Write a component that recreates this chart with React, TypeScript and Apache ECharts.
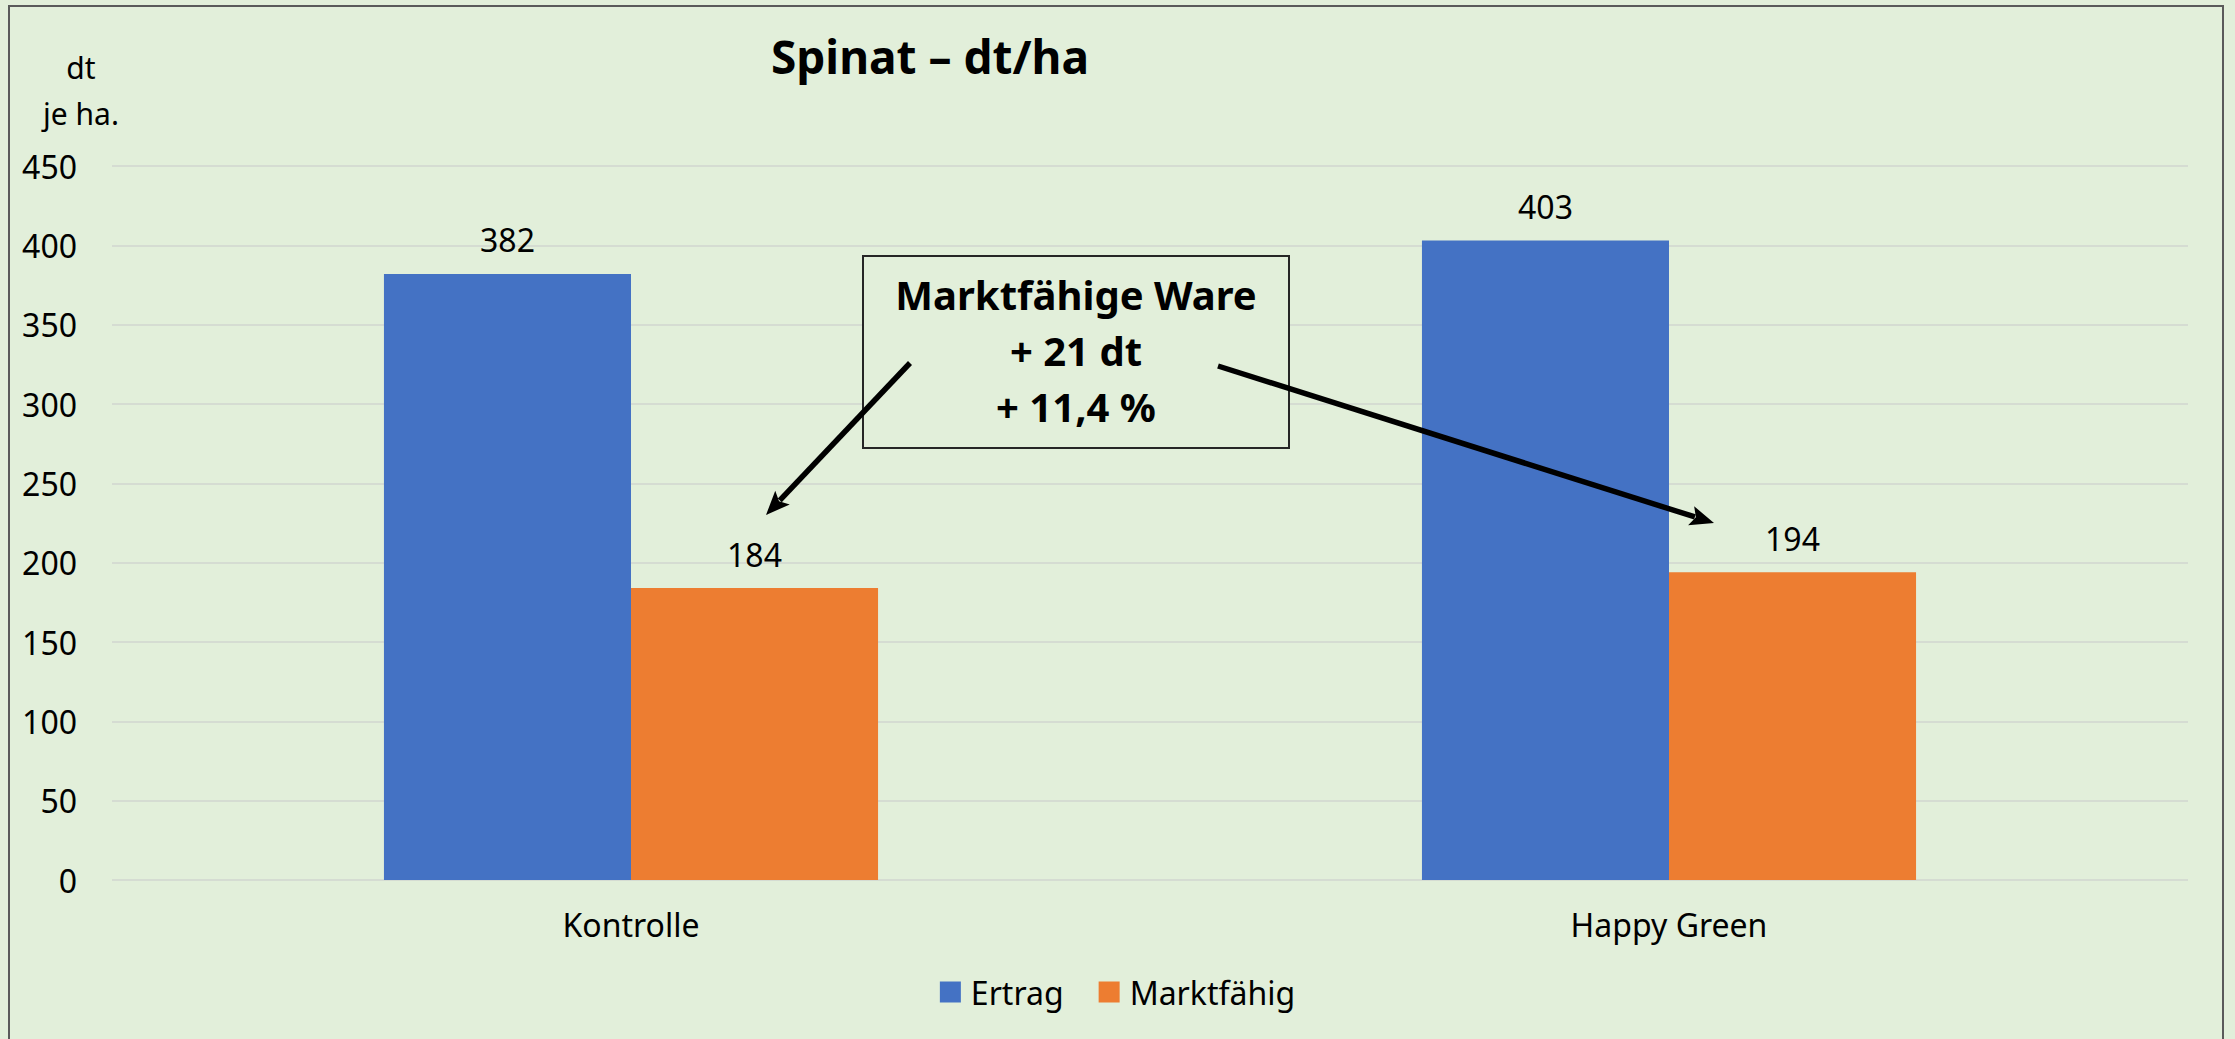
import React, { useEffect, useRef } from "react";
import * as echarts from "echarts";

const categories = ["Kontrolle", "Happy Green"];
const ertrag = [382, 403];
const marktfaehig = [184, 194];
const seriesNames = ["Ertrag", "Marktfähig"];
const yTicks = { min: 0, max: 450, interval: 50 };
const titleText = "Spinat – dt/ha";
const yNameLines = ["dt", "je ha."];
const noteLines = ["Marktfähige Ware", "+ 21 dt", "+ 11,4 %"];

const FONT = "Noto Sans";
const BG = "#E2EFDA";

function arrow(x1: number, y1: number, x2: number, y2: number) {
  const len = 24;
  const half = 10;
  const dx = x2 - x1;
  const dy = y2 - y1;
  const d = Math.sqrt(dx * dx + dy * dy);
  const ux = dx / d;
  const uy = dy / d;
  const bx = x2 - ux * len;
  const by = y2 - uy * len;
  const px = -uy;
  const py = ux;
  return [
    {
      type: "line",
      shape: { x1, y1, x2: bx + ux * 4, y2: by + uy * 4 },
      style: { stroke: "#000", lineWidth: 5.5 },
      z: 100,
    },
    {
      type: "polygon",
      shape: {
        points: [
          [x2, y2],
          [bx + px * half, by + py * half],
          [bx + ux * 5, by + uy * 5],
          [bx - px * half, by - py * half],
        ],
      },
      style: { fill: "#000" },
      z: 100,
    },
  ];
}

export default function App() {
  const ref = useRef<HTMLDivElement>(null);
  useEffect(() => {
    document.body.style.margin = "0";
    const chart = echarts.init(ref.current!, null, { renderer: "svg" });
    const option: any = {
      animation: false,
      backgroundColor: BG,
      textStyle: { fontFamily: FONT },
      grid: { left: 112, right: 47, top: 166, bottom: 159 },
      xAxis: {
        type: "category",
        data: categories,
        axisLine: { show: false },
        axisTick: { show: false },
        axisLabel: { fontSize: 32, color: "#000", margin: 28, fontFamily: FONT },
      },
      yAxis: {
        type: "value",
        min: yTicks.min,
        max: yTicks.max,
        interval: yTicks.interval,
        axisLine: { show: false },
        axisTick: { show: false },
        axisLabel: { fontSize: 32, color: "#000", margin: 35, fontFamily: FONT },
        splitLine: { lineStyle: { color: "#D5DCD2", width: 2 } },
      },
      legend: {
        data: seriesNames,
        left: "center",
        top: 971,
        icon: "rect",
        itemWidth: 21,
        itemHeight: 21,
        itemGap: 35,
        textStyle: { fontSize: 32, color: "#000", fontFamily: FONT, padding: [0, 0, 0, 5] },
      },
      series: [
        {
          name: seriesNames[0],
          type: "bar",
          data: ertrag,
          barWidth: "23.8%",
          barGap: "0%",
          itemStyle: { color: "#4472C4" },
          label: { show: true, position: "top", distance: 18, fontSize: 32, color: "#000", fontFamily: FONT },
        },
        {
          name: seriesNames[1],
          type: "bar",
          data: marktfaehig,
          barWidth: "23.8%",
          barGap: "0%",
          itemStyle: { color: "#ED7D31" },
          label: { show: true, position: "top", distance: 18, fontSize: 32, color: "#000", fontFamily: FONT },
        },
      ],
      graphic: [
        {
          type: "rect",
          shape: { x: 9, y: 6, width: 2214, height: 1100 },
          style: { fill: "none", stroke: "#5A5A5A", lineWidth: 2 },
          silent: true,
        },
        {
          type: "text",
          x: 930,
          y: 56,
          style: {
            text: titleText,
            fontSize: 46,
            fontWeight: "bold",
            fontFamily: FONT,
            fill: "#000",
            textAlign: "center",
            textVerticalAlign: "middle",
          },
        },
        {
          type: "text",
          x: 81,
          y: 67,
          style: {
            text: yNameLines[0],
            fontSize: 30,
            fontFamily: FONT,
            fill: "#000",
            textAlign: "center",
            textVerticalAlign: "middle",
          },
        },
        {
          type: "text",
          x: 81,
          y: 113,
          style: {
            text: yNameLines[1],
            fontSize: 30,
            fontFamily: FONT,
            fill: "#000",
            textAlign: "center",
            textVerticalAlign: "middle",
          },
        },
        {
          type: "rect",
          shape: { x: 863, y: 256, width: 426, height: 192 },
          style: { fill: BG, stroke: "#262626", lineWidth: 2 },
          z: 50,
        },
        ...noteLines.map((t, i) => ({
          type: "text",
          x: 1076,
          y: 294 + i * 56,
          z: 60,
          style: {
            text: t,
            fontSize: 40,
            fontWeight: "bold",
            fontFamily: FONT,
            fill: "#000",
            textAlign: "center",
            textVerticalAlign: "middle",
          },
        })),
        ...arrow(910, 363, 766, 515),
        ...arrow(1218, 366, 1714, 523),
      ],
    };
    chart.setOption(option);
    return () => chart.dispose();
  }, []);
  return <div ref={ref} style={{ width: 2235, height: 1039 }} />;
}
